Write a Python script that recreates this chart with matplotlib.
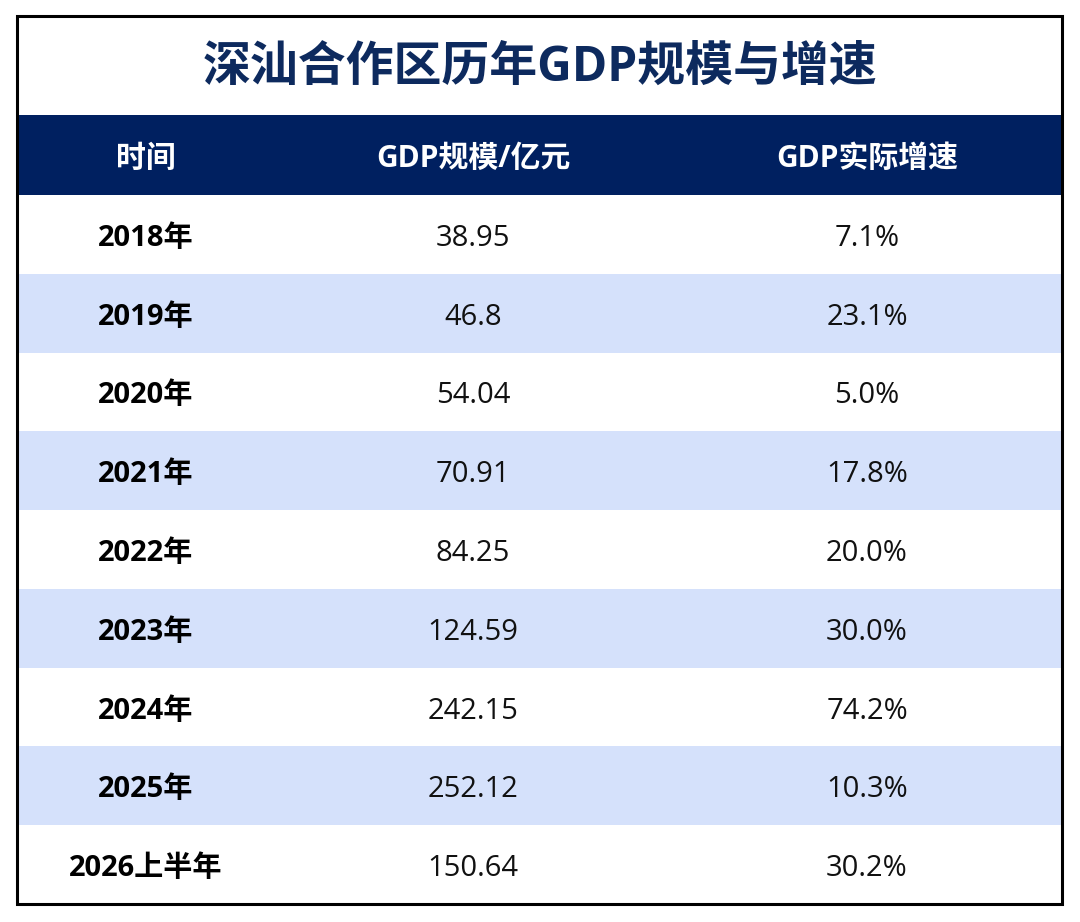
import matplotlib
matplotlib.use("Agg")
import matplotlib.pyplot as plt
from matplotlib.patches import Rectangle

plt.rcParams['font.family'] = ['Open Sans', 'Noto Sans CJK SC', 'DejaVu Sans']

title = "深汕合作区历年GDP规模与增速"
headers = ["时间", "GDP规模/亿元", "GDP实际增速"]
years = ["2018年", "2019年", "2020年", "2021年", "2022年", "2023年", "2024年", "2025年", "2026上半年"]
gdp = ["38.95", "46.8", "54.04", "70.91", "84.25", "124.59", "242.15", "252.12", "150.64"]
growth = ["7.1%", "23.1%", "5.0%", "17.8%", "20.0%", "30.0%", "74.2%", "10.3%", "30.2%"]

W, H = 1080, 922
fig = plt.figure(figsize=(W / 100, H / 100), dpi=100)
ax = fig.add_axes([0, 0, 1, 1])
ax.set_xlim(0, W)
ax.set_ylim(H, 0)
ax.axis('off')

navy = "#002060"
band = "#d5e1fb"
left, right, top, bottom = 17, 1062, 16, 904
title_bottom = 115
header_bottom = 195
row_h = (bottom - header_bottom) / len(years)
col_x = [146, 473, 867]

ax.text(540, 68, title, ha='center', va='center', fontsize=34.5, fontweight='bold', color="#0d2a5e")
ax.add_patch(Rectangle((left, title_bottom), right - left, header_bottom - title_bottom, color=navy, lw=0))
for x, h in zip(col_x, headers):
    ax.text(x, (title_bottom + header_bottom) / 2 + 4, h, ha='center', va='center', fontsize=21.5,
            fontweight='bold', color='white')

for i, (y, g, r) in enumerate(zip(years, gdp, growth)):
    y0 = header_bottom + i * row_h
    if i % 2 == 1:
        ax.add_patch(Rectangle((left, y0), right - left, row_h, color=band, lw=0))
    yc = y0 + row_h / 2 + 4
    ax.text(col_x[0], yc, y, ha='center', va='center', fontsize=21, fontweight='bold', color='black')
    ax.text(col_x[1], yc, g, ha='center', va='center', fontsize=21, color='#111111')
    ax.text(col_x[2], yc, r, ha='center', va='center', fontsize=21, color='#111111')

ax.add_patch(Rectangle((left, top), right - left, bottom - top, fill=False, ec='black', lw=2.2))

fig.savefig("out.png", dpi=100)
